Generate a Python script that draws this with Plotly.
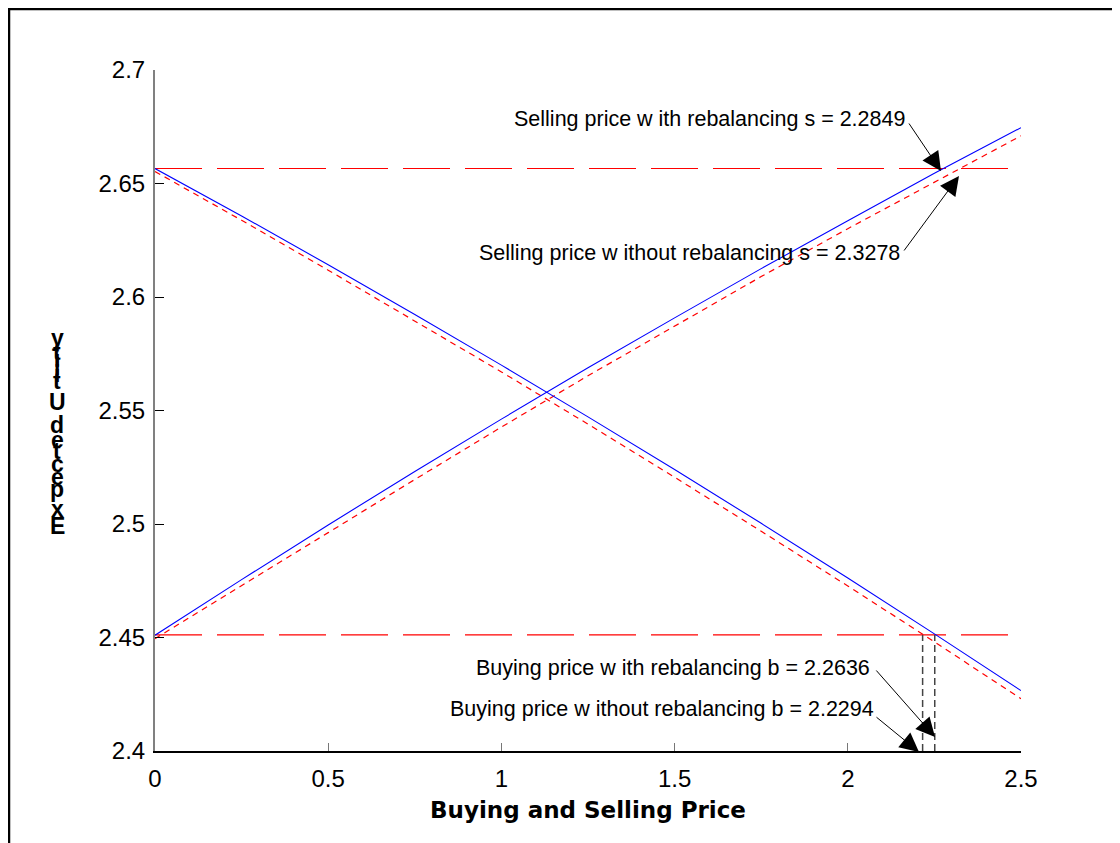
import plotly.graph_objects as go

# ---------------- data ----------------
price = [0, 0.25, 0.5, 0.75, 1.0, 1.25, 1.5, 1.75, 2.0, 2.25, 2.5]
sell_with = [2.4510, 2.4755, 2.4996, 2.5231, 2.5462, 2.5688, 2.5908, 2.6125, 2.6336, 2.6545, 2.6746]
sell_without = [2.4495, 2.4730, 2.4962, 2.5196, 2.5427, 2.5653, 2.5873, 2.6090, 2.6301, 2.6507, 2.6710]
buy_with = [2.6566, 2.6357, 2.6142, 2.5923, 2.5700, 2.5472, 2.5240, 2.5003, 2.4762, 2.4516, 2.4266]
buy_without = [2.6553, 2.6338, 2.6118, 2.5895, 2.5670, 2.5440, 2.5206, 2.4968, 2.4727, 2.4481, 2.4230]
sell_level = 2.6566
buy_level = 2.4512
b_marks = [2.216, 2.251]

x_ticks = [0, 0.5, 1, 1.5, 2, 2.5]
x_tick_labels = ["0", "0.5", "1", "1.5", "2", "2.5"]
y_ticks = [2.4, 2.45, 2.5, 2.55, 2.6, 2.65, 2.7]
y_tick_labels = ["2.4", "2.45", "2.5", "2.55", "2.6", "2.65", "2.7"]

label_texts = [
    "Selling price w ith rebalancing s = 2.2849",
    "Selling price w ithout rebalancing s = 2.3278",
    "Buying price w ith rebalancing b = 2.2636",
    "Buying price w ithout rebalancing b = 2.2294",
]
x_title = "Buying and Selling Price"
y_title = "Expected Utility"

# ---------------- layout geometry (page pixels; page has 8px body margin) ----------------
OFF = 8
W, H = 1112, 835
PL, PT, PRt, PB = 155, 70, 1021, 751   # plot area in page pixels
L, T = PL - OFF, PT - OFF
PW, PH = PRt - PL, PB - PT
R, B = W - L - PW, H - T - PH
XR = (0, 2.5)
YR = (2.4, 2.7)


def dx(px):
    return XR[0] + (px - PL) / PW * (XR[1] - XR[0])


def dy(py):
    return YR[1] - (py - PT) / PH * (YR[1] - YR[0])


def pxp(px):
    return (px - PL) / PW


def pyp(py):
    return (PB - py) / PH


FONT = "Liberation Sans, Arial, sans-serif"

fig = go.Figure()

# horizontal reference levels
for lvl in (sell_level, buy_level):
    fig.add_trace(go.Scatter(x=[XR[0], XR[1]], y=[lvl, lvl], mode="lines",
                             line=dict(color="#ff0000", width=1.2, dash="47px,15px"),
                             hoverinfo="skip", showlegend=False))

# vertical markers at the buying prices
for bx in b_marks:
    fig.add_trace(go.Scatter(x=[bx, bx], y=[YR[0], buy_level], mode="lines",
                             line=dict(color="#444444", width=1.5, dash="7px,4px"),
                             hoverinfo="skip", showlegend=False))

fig.add_trace(go.Scatter(x=price, y=sell_without, mode="lines",
                         line=dict(color="#ff0000", width=1.2, dash="6px,5px"), showlegend=False))
fig.add_trace(go.Scatter(x=price, y=buy_without, mode="lines",
                         line=dict(color="#ff0000", width=1.2, dash="6px,5px"), showlegend=False))
fig.add_trace(go.Scatter(x=price, y=sell_with, mode="lines",
                         line=dict(color="#0000ff", width=1.1), showlegend=False))
fig.add_trace(go.Scatter(x=price, y=buy_with, mode="lines",
                         line=dict(color="#0000ff", width=1.1), showlegend=False))

annotations = []

# label texts (right end, vertical centre) in page pixels
text_pos = [(907, 119), (902, 253), (872, 668), (876, 709)]
for t, (px, py) in zip(label_texts, text_pos):
    annotations.append(dict(x=dx(px), y=dy(py), xref="x", yref="y", text=t,
                            showarrow=False, xanchor="right", yanchor="middle",
                            font=dict(family=FONT, size=21.5, color="black")))

# arrows: (tail px, tail py, head px, head py)
arrow_pos = [(908, 122, 941, 171), (903, 252, 959, 176),
             (875, 669, 935, 737), (875, 716, 919, 752)]
for (tx, ty, hx, hy) in arrow_pos:
    annotations.append(dict(x=dx(hx), y=dy(hy), xref="x", yref="y",
                            ax=dx(tx), ay=dy(ty), axref="x", ayref="y",
                            text="", showarrow=True, arrowhead=2, arrowsize=3.8,
                            arrowwidth=1, arrowcolor="black", standoff=0))

# y-axis title as stacked upright letters (as in reference)
stack_y = [526, 509, 489, 477, 464, 451, 440, 425, None, 402, 381, 374, 367, 359, 352, 338]
for ch, py in zip(y_title, stack_y):
    if py is None or ch == " ":
        continue
    annotations.append(dict(x=pxp(57), y=pyp(py), xref="paper", yref="paper", text=ch,
                            showarrow=False, xanchor="center", yanchor="middle",
                            font=dict(family=FONT, size=23, color="black", weight="bold")))

# x-axis title
annotations.append(dict(x=0.5, y=pyp(810), xref="paper", yref="paper", text=x_title,
                        showarrow=False, xanchor="center", yanchor="middle",
                        font=dict(family="DejaVu Sans, sans-serif", size=23, color="black",
                                  weight="bold")))

fig.update_layout(
    width=W, height=H,
    margin=dict(l=L, r=R, t=T, b=B, pad=0),
    paper_bgcolor="white", plot_bgcolor="white",
    template="none",
    showlegend=False,
    annotations=annotations,
    shapes=[dict(type="rect", xref="paper", yref="paper",
                 x0=pxp(OFF + 1), x1=pxp(1140), y0=pyp(870), y1=pyp(OFF + 1),
                 line=dict(color="black", width=2.5), layer="above")],
    xaxis=dict(range=list(XR), tickvals=x_ticks, ticktext=x_tick_labels,
               showgrid=False, zeroline=False, showline=True, linecolor="black", linewidth=1.5,
               ticks="inside", ticklen=8, tickwidth=1, tickcolor="#777777",
               ticklabelstandoff=5,
               tickfont=dict(family=FONT, size=24, color="black")),
    yaxis=dict(range=list(YR), tickvals=y_ticks, ticktext=y_tick_labels,
               showgrid=False, zeroline=False, showline=True, linecolor="#808080", linewidth=2,
               ticks="inside", ticklen=9, tickwidth=1, tickcolor="black",
               ticklabelstandoff=3,
               tickfont=dict(family=FONT, size=24, color="black")),
)

fig.write_html("out.html")
